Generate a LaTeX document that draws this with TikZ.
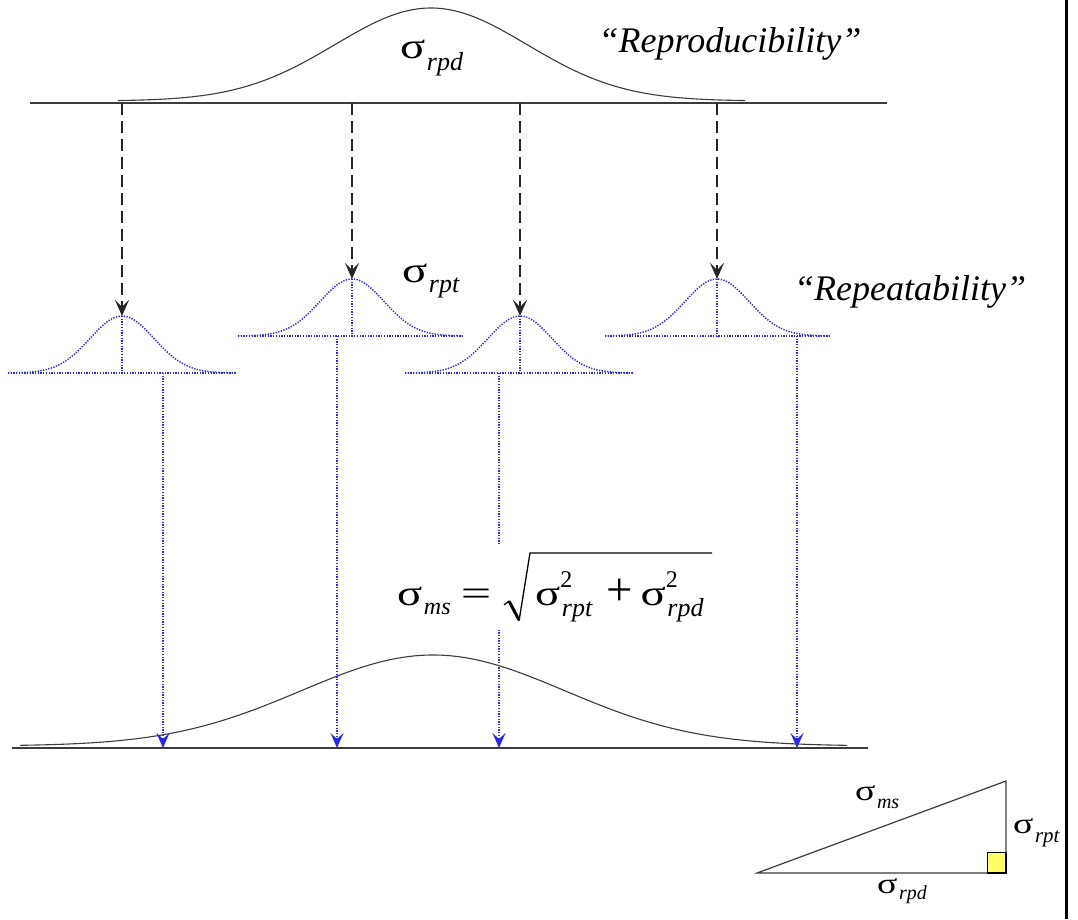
\documentclass[tikz,border=0pt]{standalone}
\usepackage{fontspec}
\setmainfont{Liberation Serif}
\usetikzlibrary{arrows.meta}
\definecolor{dblue}{RGB}{40,40,240}
\definecolor{lgray}{RGB}{60,60,60}
\definecolor{sqyellow}{RGB}{255,255,100}
% sigma with subscript: #1 subscript, #2 sub size, #3 drop
\newcommand{\bsig}{\scalebox{1.3}[1]{σ}}
\newcommand{\sgm}[3]{\bsig\kern1.5pt\raisebox{-#3}{\fontsize{#2}{#2}\selectfont\itshape #1}}
\newcommand{\sgmsq}[1]{\bsig\rlap{\kern0pt\raisebox{18pt}{\fontsize{24}{24}\selectfont 2}}\kern1.5pt\raisebox{-11pt}{\fontsize{26}{26}\selectfont\itshape #1}}
\tikzset{
  curve/.style={lgray, line width=1.1pt},
  axisline/.style={lgray, line width=1.3pt},
  bluedot/.style={dblue, line width=1.5pt, dash pattern=on 1.3pt off 1.4pt},
  blackarrow/.style={black!85, line width=1.9pt, dash pattern=on 12pt off 6pt, -{Stealth[length=16pt,width=14pt,inset=7pt]}},
  bluearrow/.style={dblue, line width=1.5pt, dash pattern=on 1.3pt off 1.4pt, -{Stealth[length=15pt,width=13pt,inset=6pt]}},
  bigtxt/.style={font=\fontsize{36}{40}\selectfont, inner sep=0pt},
  smalltxt/.style={font=\fontsize{29}{32}\selectfont, inner sep=0pt},
}
\begin{document}
\begin{tikzpicture}[x=1pt, y=-1pt]
\useasboundingbox[fill=white] (0,0) rectangle (1078,919);
% top distribution
\draw[axisline] (30,103) -- (887,103);
\draw[curve] plot[domain=118:745, samples=150, smooth] (\x,{101-93*exp(-((\x-431)/96)^2/2)});
\node[bigtxt, anchor=base west] (srpd) at (400,58) {\sgm{rpd}{26}{12pt}};
\node[bigtxt, anchor=base] (repro) at (730,52) {\itshape “Reproducibility”};
% bottom distribution
\draw[axisline] (12,748) -- (868,748);
\draw[curve] plot[domain=20:847, samples=150, smooth] (\x,{746-91*exp(-((\x-433)/132)^2/2)});
% small distributions and arrows
\foreach \n/\c/\p/\b/\l/\r/\o in {1/122/316/373/8/235/163, 2/352/279/336/238/463/337, 3/520/316/373/405/632/499, 4/717/279/336/605/830/797}{
  \coordinate (pk\n) at (\c,\p);
  \coordinate (top\n) at (\c,103);
  \coordinate (out\n) at (\o,\b);
  \coordinate (hit\n) at (\o,748);
  \draw[bluedot] (\l,\b) -- (\r,\b);
  \draw[bluedot] plot[domain=\l:\r, samples=90, smooth] (\x,{\b-(\b-\p)*exp(-((\x-\c)/32)^2/2)});
  \draw[bluedot] (pk\n) -- (\c,\b);
  \draw[blackarrow] (top\n) -- (pk\n);
  \draw[bluearrow] (out\n) -- (hit\n);
}
\node[bigtxt, anchor=base west] (srpt) at (402,282) {\sgm{rpt}{26}{10pt}};
\node[bigtxt, anchor=base] (repeat) at (910,300) {\itshape “Repeatability”};
% formula
\fill[white] (392,546) rectangle (716,630);
\node[bigtxt, anchor=base west] (flhs) at (397,605) {\sgm{ms}{24}{9pt}};
\node[bigtxt, anchor=base] (feq) at (476,605) {\scalebox{1.5}[1]{=}};
\node[bigtxt, anchor=base west] (frad) at (535,605) {\sgmsq{rpt}\hspace{14pt}\scalebox{1.3}{+}\hspace{8pt}\sgmsq{rpd}};
\draw[black, line width=1.2pt] (504,605) -- (509,601);
\draw[black, line width=3pt] (509,601) -- (519,620);
\draw[black, line width=1.3pt, line join=miter] (519,621) -- (530,553) -- (712,553);
% right border
\draw[black, line width=3pt] (1066,0) -- (1066,919);
% triangle
\coordinate (A) at (757,873);
\coordinate (B) at (1006,873);
\coordinate (C) at (1006,781);
\filldraw[fill=sqyellow, draw=black, line width=1pt] (987,852) rectangle (B);
\draw[lgray, line width=1.2pt] (A) -- (B) -- (C) -- cycle;
\draw[black, line width=2pt] (987,873) -- (B) -- (1006,852);
\node[smalltxt, anchor=base west] (tms) at (855,800) {\sgm{ms}{20}{8pt}};
\node[smalltxt, anchor=base west] (trpt) at (1013,833) {\sgm{rpt}{21}{9pt}};
\node[smalltxt, anchor=base west] (trpd) at (877,893) {\sgm{rpd}{20}{6pt}};
\end{tikzpicture}
\end{document}
